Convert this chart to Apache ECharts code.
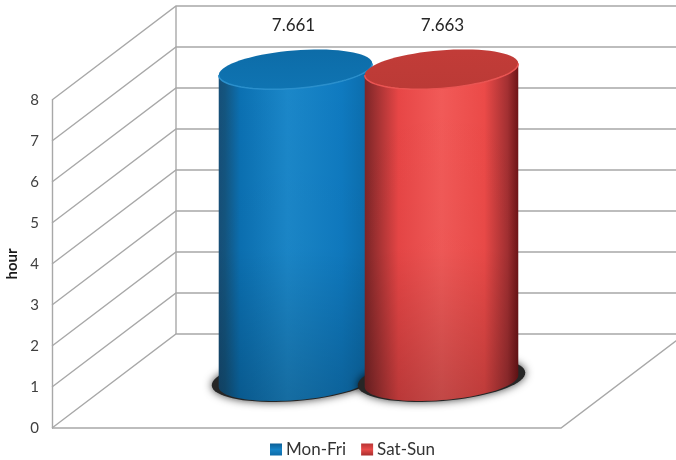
<!DOCTYPE html>
<html>
<head>
<meta charset="utf-8">
<style>html,body{margin:0;padding:0;background:#fff}#c{width:676px;height:460px}</style>
<script src="https://cdn.jsdelivr.net/npm/echarts@6/dist/echarts.min.js"></script>
</head>
<body>
<div id="c"></div>
<script>
const categories = ['all'];
const seriesNames = ['Mon-Fri', 'Sat-Sun'];
const monFri = [7.661];
const satSun = [7.663];
const ticks = [0, 1, 2, 3, 4, 5, 6, 7, 8];

const DX = 124, DY = -94, WALL = '#a8a8a8';
const A = 77, B = 19, TILT = 4.6 * Math.PI / 180, SPACING = 73, TOP_DROP = 2.5;

function lin(stops) {
  return { type: 'linear', x: 0, y: 0, x2: 1, y2: 0,
    colorStops: stops.map(s => ({ offset: s[0], color: s[1] })) };
}
function vert(stops) {
  return { type: 'linear', x: 0, y: 0, x2: 0, y2: 1,
    colorStops: stops.map(s => ({ offset: s[0], color: s[1] })) };
}
const looks = [
  { body: lin([[0, '#164f78'], [0.04, '#14557f'], [0.14, '#0b70b2'], [0.45, '#1b87c9'], [0.8, '#0f7ac0'], [1, '#0b6aa8']]),
    top: vert([[0, '#0d6ca8'], [1, '#0f74b2']]), rim: '#2a8fcc', legend: vert([[0, '#0c5f96'], [0.5, '#1683c6'], [1, '#0d6ba8']]), off: -1, labelShift: -2 },
  { body: lin([[0, '#7c2527'], [0.06, '#9a2f30'], [0.22, '#e84646'], [0.5, '#f25a58'], [0.78, '#ec4a48'], [0.93, '#a33032'], [1, '#6e1417']]),
    top: vert([[0, '#c23c38'], [1, '#bb3a36']]), rim: '#ea5452', legend: vert([[0, '#b83434'], [0.5, '#e84c4a'], [1, '#a82c2c']]), off: 1, labelShift: 1 }
];

function arc(cx, cy, a, b, from, to, n) {
  const pts = [];
  for (let i = 0; i <= n; i++) {
    const t = from + (to - from) * i / n;
    pts.push([
      cx + a * Math.cos(t) * Math.cos(TILT) + b * Math.sin(t) * Math.sin(TILT),
      cy - a * Math.cos(t) * Math.sin(TILT) + b * Math.sin(t) * Math.cos(TILT)
    ]);
  }
  return pts;
}

function cylinder(look) {
  return function (params, api) {
    const value = api.value(1);
    const base = api.coord([0, 0]);
    const head = api.coord([0, value]);
    const cx = base[0] + DX / 2 + look.off * SPACING;
    const by = base[1] + DY / 2;
    const ty = head[1] + DY / 2 + TOP_DROP;
    const t0 = Math.atan2(B * Math.sin(TILT), A * Math.cos(TILT));
    const bottom = arc(cx, by, A, B, t0, t0 + Math.PI, 48);
    const topFront = arc(cx, ty, A, B, t0, t0 + Math.PI, 48);
    const body = bottom.concat(topFront.slice().reverse());
    return {
      type: 'group',
      children: [
        { type: 'polygon', shape: { points: arc(cx, by - 2, A + 7, B + 3, 0, Math.PI * 2, 72) },
          style: { fill: '#262626', shadowBlur: 8, shadowColor: 'rgba(0,0,0,0.75)' } },
        { type: 'polygon', shape: { points: body }, style: { fill: look.body } },
        { type: 'polygon', shape: { points: body },
          style: { fill: vert([[0, 'rgba(0,0,0,0)'], [0.55, 'rgba(0,0,0,0.02)'], [1, 'rgba(0,0,0,0.2)']]) } },
        { type: 'polygon', shape: { points: arc(cx, ty, A, B, 0, Math.PI * 2, 72) }, style: { fill: look.top } },
        { type: 'polyline', shape: { points: topFront }, style: { fill: 'none', stroke: look.rim, lineWidth: 1.5 } },
        { type: 'text', x: cx + look.labelShift, y: 26,
          style: { text: value.toFixed(3), fill: '#262626', font: '17px Lato, "Open Sans", sans-serif', align: 'center', verticalAlign: 'middle' } }
      ]
    };
  };
}

function wallLine(params, api) {
  const p = api.coord([0, api.value(1)]);
  const left = p[0] - api.size([1, 0])[0] / 2;
  const right = left + api.size([1, 0])[0];
  const y = p[1];
  const lines = [{ type: 'polyline',
    shape: { points: [[left, y], [left + DX, y + DY], [right + DX, y + DY]] },
    style: { fill: 'none', stroke: WALL, lineWidth: 1.4 } }];
  if (api.value(1) === 0) {
    lines.push({ type: 'polyline', shape: { points: [[left, y], [right, y], [right + DX, y + DY]] },
      style: { fill: 'none', stroke: WALL, lineWidth: 1.4 } });
    lines.push({ type: 'line',
      shape: { x1: left + DX, y1: y + DY, x2: left + DX, y2: api.coord([0, ticks[ticks.length - 1]])[1] + DY },
      style: { stroke: WALL, lineWidth: 1.4 } });
  }
  return { type: 'group', children: lines };
}

const chart = echarts.init(document.getElementById('c'), null, { renderer: 'canvas' });
chart.setOption({
  backgroundColor: '#fff',
  animation: false,
  grid: { left: 52, top: 100, width: 509, height: 328, outerBoundsMode: 'none' },
  xAxis: { type: 'category', data: categories, show: false },
  yAxis: {
    type: 'value', min: 0, max: 8, interval: 1,
    name: 'hour', nameLocation: 'middle', nameGap: 27, nameRotate: 90,
    nameTextStyle: { fontFamily: 'Lato', fontWeight: 'bold', fontSize: 15, color: '#1a1a1a' },
    axisLine: { show: true, lineStyle: { color: WALL, width: 1.4 } },
    axisTick: { show: false },
    splitLine: { show: false },
    axisLabel: { fontFamily: 'Lato', fontSize: 15, color: '#404040', margin: 13, padding: [6, 0, 0, 0] }
  },
  legend: {
    data: seriesNames.map((n, i) => ({ name: n, icon: 'rect', itemStyle: { color: looks[i].legend } })),
    left: 265, top: 436, itemWidth: 12, itemHeight: 12, itemGap: 15,
    textStyle: { fontFamily: 'Lato', fontSize: 17, color: '#333', padding: [0, 0, 0, -1] }
  },
  series: [
    { type: 'custom', name: 'walls', silent: true, clip: false, z: 1, renderItem: wallLine,
      data: ticks.map(t => [0, t]) },
    { type: 'custom', name: seriesNames[0], clip: false, z: 2, renderItem: cylinder(looks[0]),
      itemStyle: { color: looks[0].legend },
      data: monFri.map((v, i) => [i, v]), encode: { x: 0, y: 1 } },
    { type: 'custom', name: seriesNames[1], clip: false, z: 3, renderItem: cylinder(looks[1]),
      itemStyle: { color: looks[1].legend },
      data: satSun.map((v, i) => [i, v]), encode: { x: 0, y: 1 } }
  ]
});
</script>
</body>
</html>
